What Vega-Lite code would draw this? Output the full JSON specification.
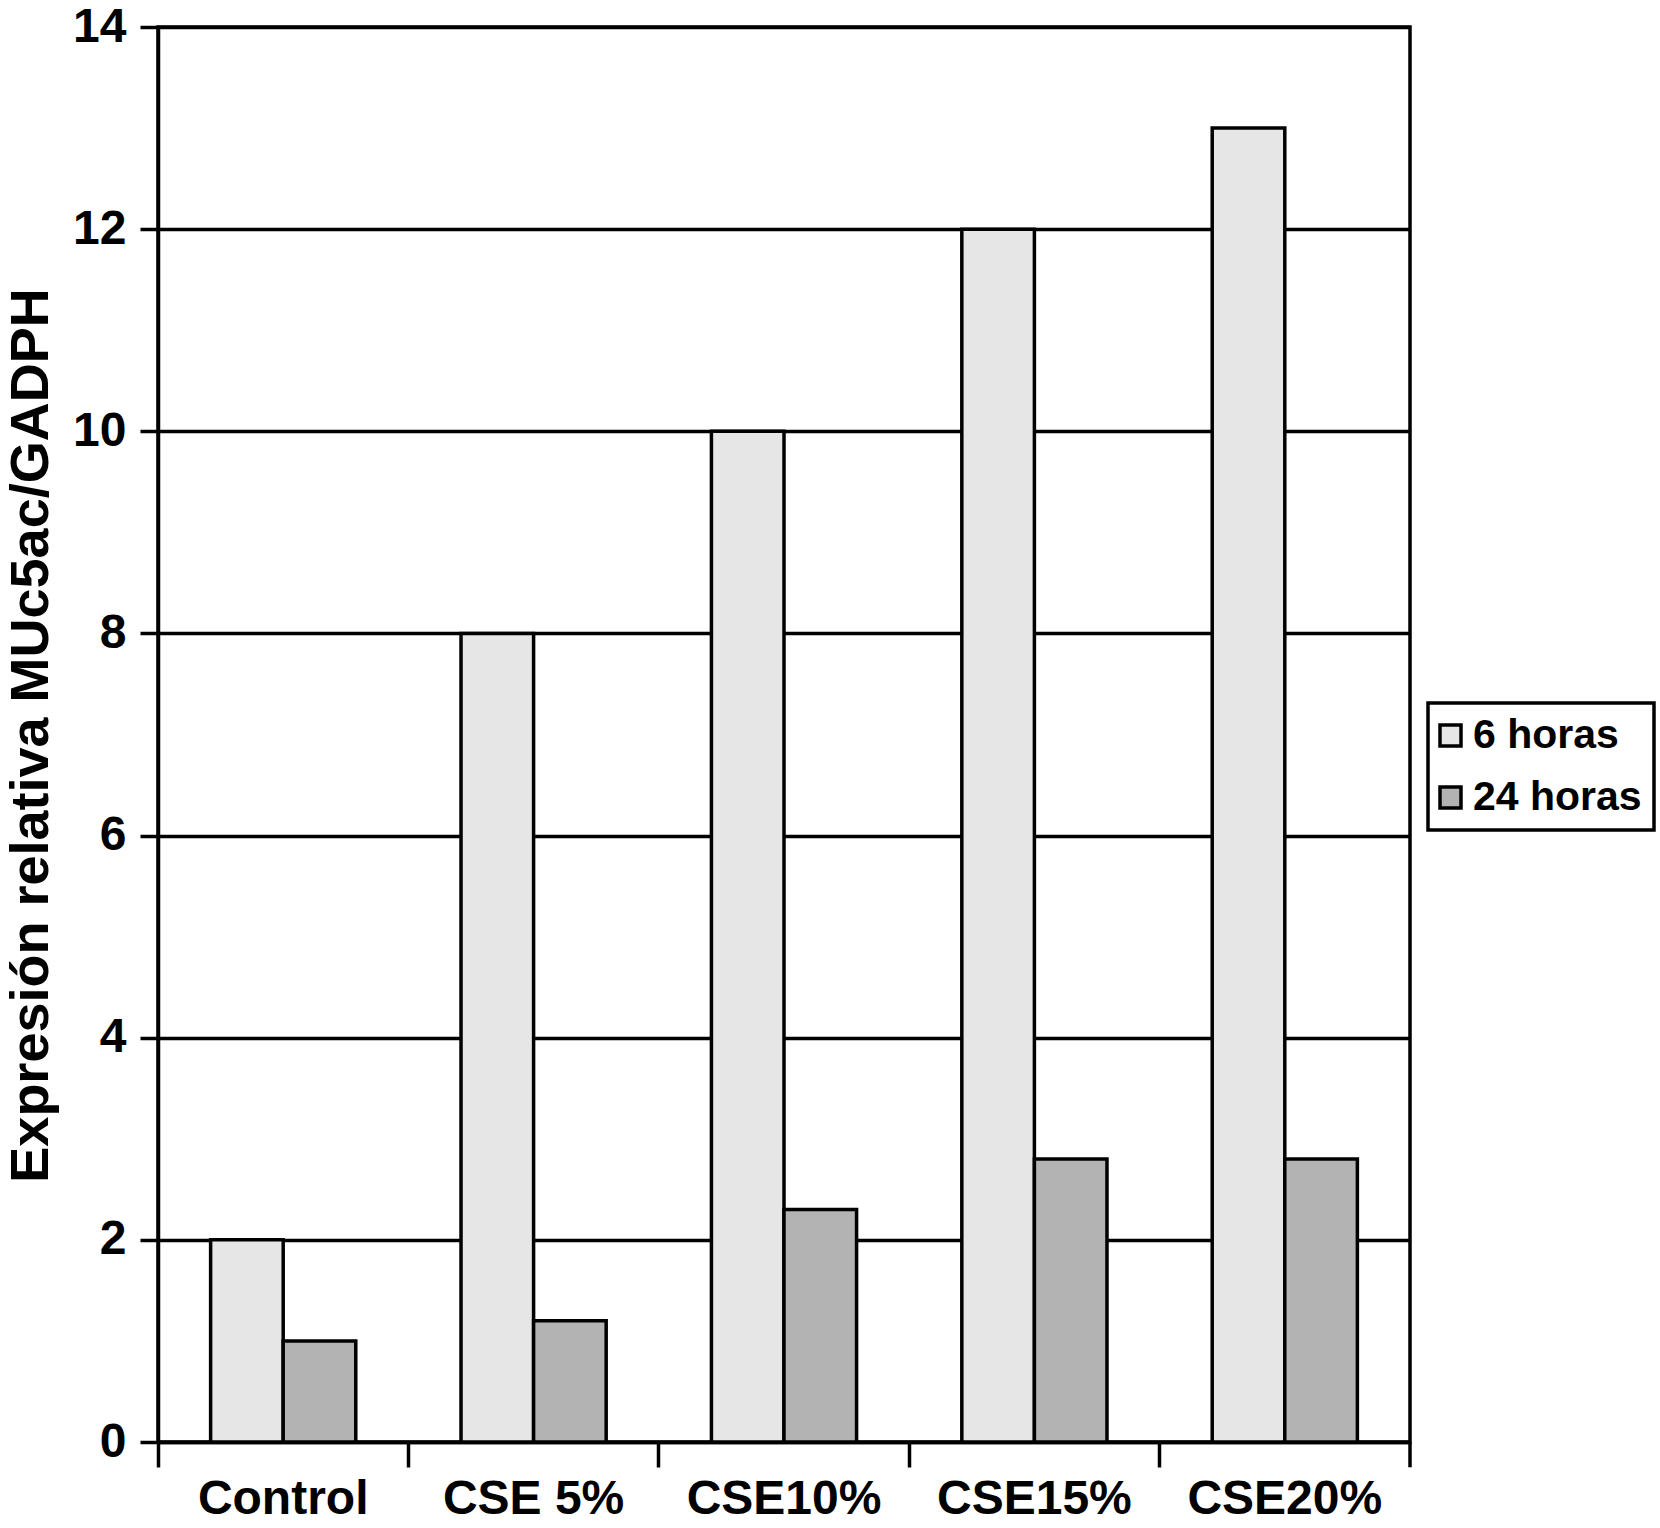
{
  "$schema": "https://vega.github.io/schema/vega-lite/v6.json",
  "autosize": {"type": "none"},
  "padding": {"left": 158, "top": 27, "right": 250, "bottom": 86},
  "width": 1252,
  "height": 1415,
  "background": "white",
  "config": {
    "font": "Liberation Sans",
    "view": {"stroke": "black", "strokeWidth": 3.5},
    "axis": {"labelFont": "Liberation Sans", "titleFont": "Liberation Sans"}
  },
  "data": {
    "values": [
      {"grupo": "Control", "tiempo": "6 horas", "valor": 2.0},
      {"grupo": "Control", "tiempo": "24 horas", "valor": 1.0},
      {"grupo": "CSE 5%", "tiempo": "6 horas", "valor": 8.0},
      {"grupo": "CSE 5%", "tiempo": "24 horas", "valor": 1.2},
      {"grupo": "CSE10%", "tiempo": "6 horas", "valor": 10.0},
      {"grupo": "CSE10%", "tiempo": "24 horas", "valor": 2.3},
      {"grupo": "CSE15%", "tiempo": "6 horas", "valor": 12.0},
      {"grupo": "CSE15%", "tiempo": "24 horas", "valor": 2.8},
      {"grupo": "CSE20%", "tiempo": "6 horas", "valor": 13.0},
      {"grupo": "CSE20%", "tiempo": "24 horas", "valor": 2.8}
    ]
  },
  "layer": [
    {
      "mark": {"type": "bar", "stroke": "black", "strokeWidth": 3.5},
      "encoding": {
        "x": {
          "field": "grupo", "type": "nominal", "sort": null,
          "scale": {"paddingInner": 0, "paddingOuter": 0},
          "axis": {
            "title": null, "labelAngle": 0, "bandPosition": 0,
            "labelFontSize": 48, "labelFontWeight": "bold", "labelColor": "black",
            "labelPadding": 8, "labelLimit": 0,
            "tickColor": "black", "tickWidth": 3.5, "tickSize": 25,
            "domainColor": "black", "domainWidth": 3.5
          }
        },
        "xOffset": {
          "field": "tiempo", "type": "nominal", "sort": ["6 horas", "24 horas"],
          "scale": {"paddingInner": 0, "paddingOuter": 0.725}
        },
        "y": {
          "field": "valor", "type": "quantitative",
          "scale": {"domain": [0, 14], "nice": false},
          "axis": {
            "title": "Expresión relativa MUc5ac/GADPH",
            "titleFontSize": 54, "titleFontWeight": "bold", "titleColor": "black",
            "titleX": -100, "titleY": 708, "titleBaseline": "bottom", "titleAlign": "center", "titleAngle": -90,
            "values": [0, 2, 4, 6, 8, 10, 12, 14], "format": "d",
            "labelFontSize": 48, "labelFontWeight": "bold", "labelColor": "black",
            "labelPadding": 14,
            "tickColor": "black", "tickWidth": 3.5, "tickSize": 18,
            "domainColor": "black", "domainWidth": 3.5,
            "grid": true, "gridColor": "black", "gridWidth": 3.5, "gridOpacity": 1
          }
        },
        "color": {
          "field": "tiempo", "type": "nominal",
          "scale": {"domain": ["6 horas", "24 horas"], "range": ["#e6e6e6", "#b3b3b3"]},
          "legend": {
            "title": null, "orient": "none", "legendX": 1270, "legendY": 676,
            "strokeColor": "black", "padding": 12,
            "symbolType": "square", "symbolSize": 441, "symbolStrokeColor": "black", "symbolStrokeWidth": 3.5,
            "symbolOpacity": 1, "symbolOffset": -10,
            "labelFontSize": 41, "labelFontWeight": "bold", "labelColor": "black", "labelFont": "Liberation Sans",
            "rowPadding": 20, "labelOffset": 2, "labelLimit": 400,
            "encode": {"legend": {"update": {"strokeWidth": {"value": 3.5}}}}
          }
        }
      }
    },
    {
      "transform": [{"filter": "datum.grupo === 'CSE20%' && datum.tiempo === '6 horas'"}],
      "mark": {"type": "rule", "color": "black", "strokeWidth": 3.5, "clip": false},
      "encoding": {
        "x": {"field": "grupo", "type": "nominal", "sort": null, "bandPosition": 1},
        "y": {"datum": 0},
        "y2": {"datum": -0.25}
      }
    }
  ]
}
